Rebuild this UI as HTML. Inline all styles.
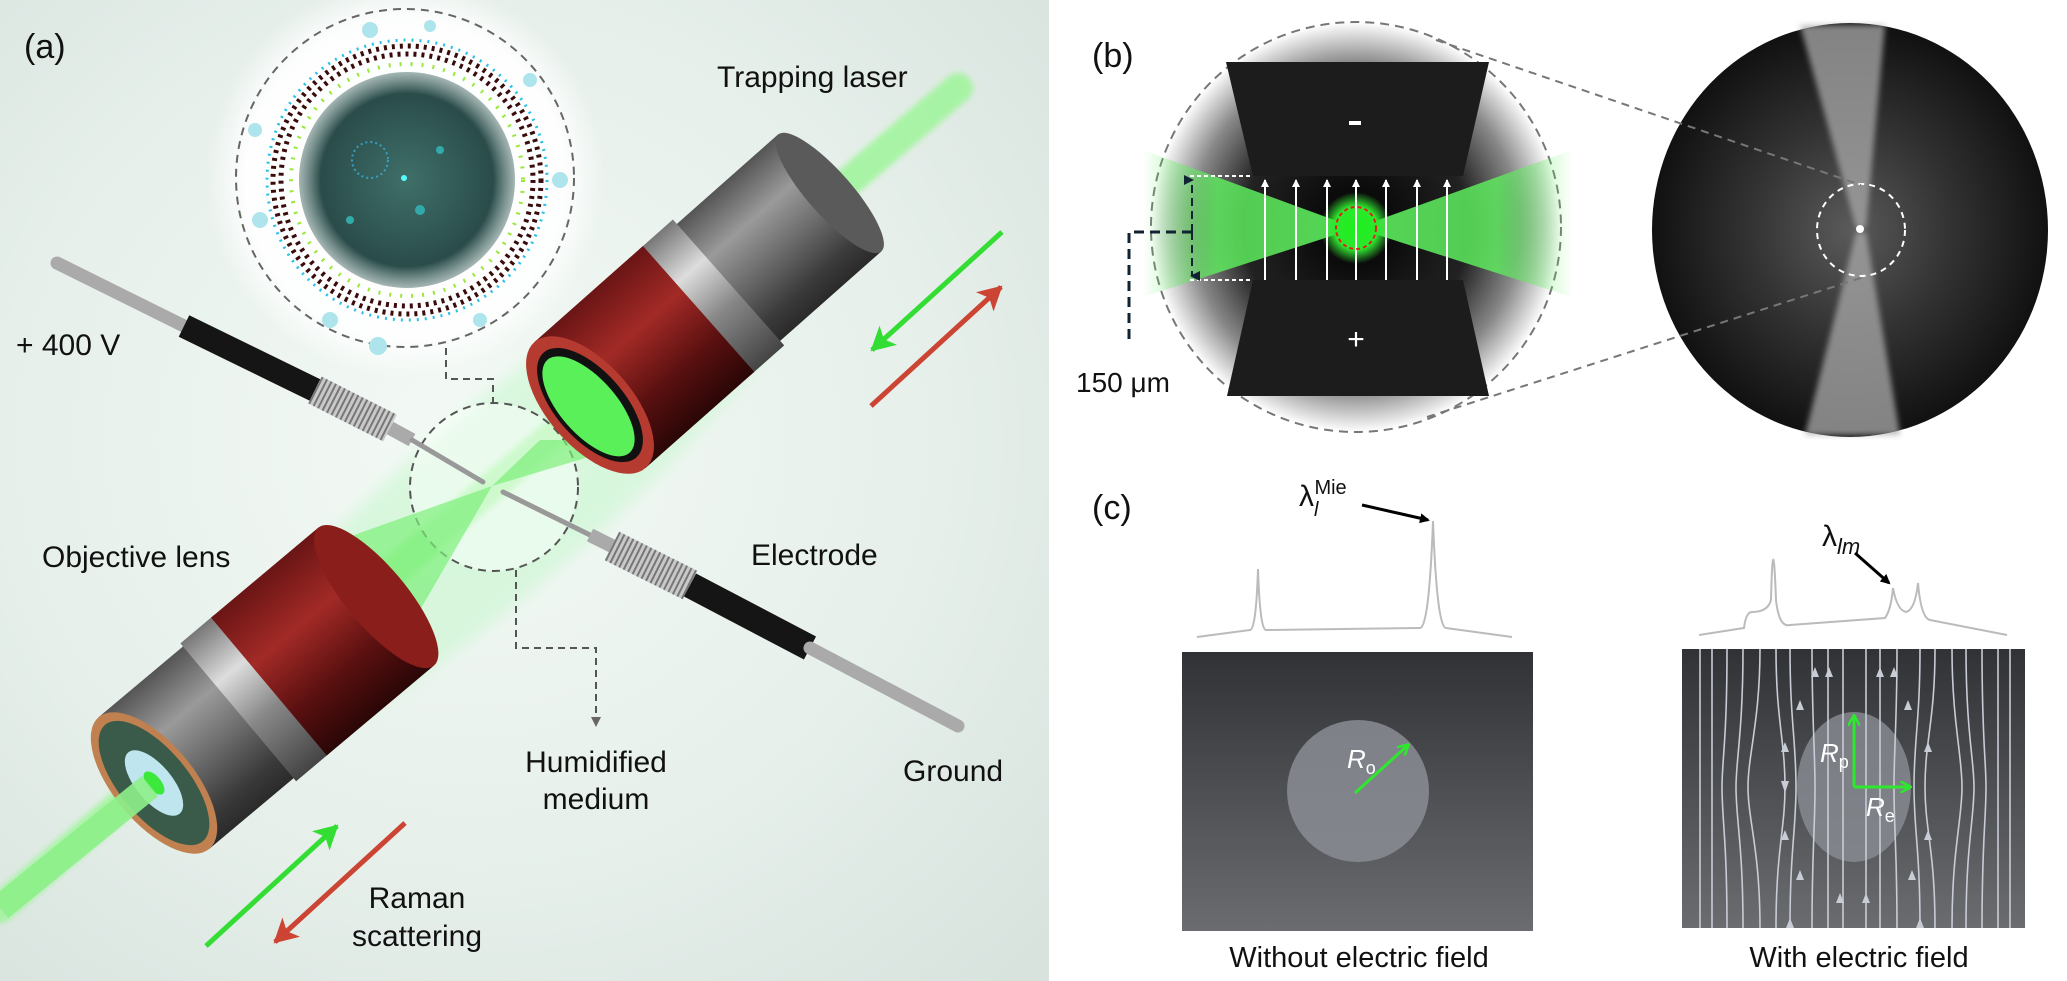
<!DOCTYPE html>
<html><head><meta charset="utf-8"><style>
html,body{margin:0;padding:0;background:#fff}
svg{display:block}
text{font-family:"Liberation Sans",sans-serif}
</style></head><body>
<svg width="2067" height="981" viewBox="0 0 2067 981" xmlns="http://www.w3.org/2000/svg">
<defs>
<radialGradient id="bgA" cx="0.45" cy="0.45" r="0.75">
<stop offset="0" stop-color="#f4faf6"/><stop offset="0.6" stop-color="#e6efea"/><stop offset="1" stop-color="#d8e3de"/>
</radialGradient>
<radialGradient id="glow" cx="0.5" cy="0.5" r="0.5">
<stop offset="0" stop-color="#fff"/><stop offset="0.8" stop-color="#fff" stop-opacity="0.9"/><stop offset="1" stop-color="#fff" stop-opacity="0"/>
</radialGradient>
<radialGradient id="drop" cx="0.5" cy="0.5" r="0.5">
<stop offset="0" stop-color="#3f6f68"/><stop offset="0.8" stop-color="#2a4c4a"/><stop offset="1" stop-color="#4b6e6a" stop-opacity="0.5"/>
</radialGradient>
<linearGradient id="red" x1="0" y1="0" x2="0" y2="1">
<stop offset="0" stop-color="#6a1515"/><stop offset="0.35" stop-color="#a22a26"/><stop offset="0.7" stop-color="#5a1010"/><stop offset="1" stop-color="#2a0606"/>
</linearGradient>
<linearGradient id="silver" x1="0" y1="0" x2="0" y2="1">
<stop offset="0" stop-color="#555"/><stop offset="0.3" stop-color="#9a9a9a"/><stop offset="0.55" stop-color="#6f6f6f"/><stop offset="0.85" stop-color="#3a3a3a"/><stop offset="1" stop-color="#2a2a2a"/>
</linearGradient>
<linearGradient id="knurl" x1="0" y1="0" x2="0" y2="1">
<stop offset="0" stop-color="#777"/><stop offset="0.3" stop-color="#ddd"/><stop offset="0.6" stop-color="#888"/><stop offset="1" stop-color="#444"/>
</linearGradient>
<radialGradient id="bcirc" cx="0.5" cy="0.5" r="0.5">
<stop offset="0" stop-color="#000"/><stop offset="0.55" stop-color="#222"/><stop offset="0.8" stop-color="#888"/><stop offset="1" stop-color="#fff"/>
</radialGradient>
<linearGradient id="elec" x1="0" y1="0" x2="0" y2="1">
<stop offset="0" stop-color="#111"/><stop offset="1" stop-color="#333"/>
</linearGradient>
<linearGradient id="gL" x1="0" y1="0" x2="1" y2="0">
<stop offset="0" stop-color="#5ef05e" stop-opacity="0"/><stop offset="0.35" stop-color="#5ef05e" stop-opacity="0.9"/><stop offset="1" stop-color="#5ef05e"/>
</linearGradient>
<linearGradient id="gR" x1="1" y1="0" x2="0" y2="0">
<stop offset="0" stop-color="#5ef05e" stop-opacity="0"/><stop offset="0.35" stop-color="#5ef05e" stop-opacity="0.9"/><stop offset="1" stop-color="#5ef05e"/>
</linearGradient>
<radialGradient id="gspot" cx="0.5" cy="0.5" r="0.5">
<stop offset="0" stop-color="#1bf01b"/><stop offset="0.6" stop-color="#2de82d"/><stop offset="1" stop-color="#3be03b" stop-opacity="0"/>
</radialGradient>
<radialGradient id="micro" cx="0.5" cy="0.5" r="0.5">
<stop offset="0" stop-color="#5a5a5a"/><stop offset="0.5" stop-color="#333"/><stop offset="1" stop-color="#111"/>
</radialGradient>
<linearGradient id="rect" x1="0" y1="0" x2="0" y2="1">
<stop offset="0" stop-color="#303236"/><stop offset="1" stop-color="#6a6c70"/>
</linearGradient>
<filter id="blur8"><feGaussianBlur stdDeviation="8"/></filter>
<filter id="blur3"><feGaussianBlur stdDeviation="3"/></filter>
<marker id="ah" markerWidth="10" markerHeight="10" refX="8" refY="5" orient="auto" markerUnits="userSpaceOnUse"><path d="M0,0 L10,5 L0,10 z" fill="#000"/></marker>
<marker id="ahw" markerWidth="8" markerHeight="8" refX="7" refY="4" orient="auto" markerUnits="userSpaceOnUse"><path d="M0,0 L8,4 L0,8 z" fill="#fff"/></marker>
<marker id="ahg" markerWidth="12" markerHeight="12" refX="10" refY="6" orient="auto" markerUnits="userSpaceOnUse"><path d="M0,0 L11,6 L0,12" fill="none" stroke="#2ee82e" stroke-width="2.5"/></marker>
<marker id="ahG" markerWidth="26" markerHeight="26" refX="22" refY="13" orient="auto" markerUnits="userSpaceOnUse"><path d="M0,0 L24,13 L0,26 L6,13 z" fill="#33dd33"/></marker>
<marker id="ahR" markerWidth="26" markerHeight="26" refX="22" refY="13" orient="auto" markerUnits="userSpaceOnUse"><path d="M0,0 L24,13 L0,26 L6,13 z" fill="#cc4433"/></marker>
<marker id="ahn" markerWidth="10" markerHeight="10" refX="5" refY="8" orient="auto" markerUnits="userSpaceOnUse"><path d="M0,0 L5,10 L10,0" fill="#123" /></marker>
<marker id="ahgr" markerWidth="10" markerHeight="10" refX="5" refY="5" orient="auto" markerUnits="userSpaceOnUse"><path d="M0,0 L10,5 L0,10 z" fill="#666"/></marker>
<marker id="fl" markerWidth="12" markerHeight="12" refX="6" refY="6" orient="auto" markerUnits="userSpaceOnUse"><path d="M0,2 L12,6 L0,10 z" fill="#c8ccd4"/></marker>
</defs>

<!-- PANEL A -->
<rect x="0" y="0" width="1049" height="981" fill="url(#bgA)"/>
<!-- green haze -->
<ellipse cx="500" cy="500" rx="420" ry="90" transform="rotate(-41 500 500)" fill="#c8f7cf" opacity="0.6" filter="url(#blur8)"/>
<!-- beam -->
<line x1="958" y1="88" x2="0" y2="908" stroke="#9ef59a" stroke-width="30" stroke-linecap="round" opacity="0.85" filter="url(#blur3)"/>
<!-- glow around droplet -->
<circle cx="405" cy="178" r="200" fill="url(#glow)"/>
<circle cx="405" cy="178" r="169" fill="none" stroke="#666" stroke-width="2" stroke-dasharray="8,6"/>
<circle cx="407" cy="180" r="108" fill="url(#drop)"/>
<circle cx="370" cy="160" r="18" fill="none" stroke="#3ab0e0" stroke-width="2" stroke-dasharray="2,3" opacity="0.8"/>
<circle cx="404" cy="178" r="3" fill="#5ff"/>
<circle cx="420" cy="210" r="5" fill="#3aa"/><circle cx="350" cy="220" r="4" fill="#3aa"/><circle cx="440" cy="150" r="4" fill="#3aa"/>
<!-- molecule ring -->
<circle cx="407" cy="180" r="116" fill="none" stroke="#9ae83c" stroke-width="4" stroke-dasharray="2,9"/>
<circle cx="407" cy="180" r="126" fill="none" stroke="#3a0b0b" stroke-width="5" stroke-dasharray="3,5"/>
<circle cx="407" cy="180" r="134" fill="none" stroke="#3a0b0b" stroke-width="5" stroke-dasharray="3,5"/>
<circle cx="407" cy="180" r="140" fill="none" stroke="#2ac0e8" stroke-width="3" stroke-dasharray="2,6"/>
<circle cx="260" cy="220" r="8" fill="#aee4ec"/><circle cx="560" cy="180" r="8" fill="#aee4ec"/><circle cx="378" cy="346" r="9" fill="#aee4ec"/><circle cx="330" cy="320" r="8" fill="#aee4ec"/><circle cx="480" cy="320" r="7" fill="#aee4ec"/><circle cx="370" cy="30" r="8" fill="#aee4ec"/><circle cx="430" cy="26" r="6" fill="#aee4ec"/><circle cx="530" cy="80" r="7" fill="#aee4ec"/><circle cx="255" cy="130" r="7" fill="#aee4ec"/>
<!-- dashed leader lines -->
<path d="M446,348 V379 H493 V404" fill="none" stroke="#555" stroke-width="2" stroke-dasharray="7,5"/>
<path d="M516,570 V648 H596 V722" fill="none" stroke="#555" stroke-width="2" stroke-dasharray="7,5" marker-end="url(#ahgr)"/>
<!-- small circle -->
<circle cx="494" cy="487" r="84" fill="#fff" opacity="0.45"/>
<circle cx="494" cy="487" r="84" fill="none" stroke="#555" stroke-width="2" stroke-dasharray="8,6"/>
<!-- cones -->
<polygon points="492,486 540,440 645,440" fill="#7ef07a" opacity="0.7"/>
<polygon points="492,486 340,540 420,610" fill="#7ef07a" opacity="0.7"/>

<!-- top-right objective -->
<g transform="translate(590,405) rotate(-41.5)">
<rect x="180" y="-78" width="140" height="156" fill="url(#silver)"/>
<ellipse cx="320" cy="0" rx="22" ry="78" fill="#5a5a5a"/>
<rect x="140" y="-84" width="45" height="168" fill="url(#knurl)"/>
<rect x="0" y="-84" width="145" height="168" fill="url(#red)"/>
<ellipse cx="0" cy="0" rx="42" ry="84" fill="#b53a30"/>
<ellipse cx="0" cy="0" rx="34" ry="70" fill="#111"/>
<ellipse cx="-2" cy="0" rx="28" ry="62" fill="#5af05a"/>
</g>
<!-- bottom-left objective -->
<g transform="translate(154,783) rotate(-40)">
<rect x="0" y="-86" width="115" height="172" fill="url(#silver)"/>
<rect x="110" y="-90" width="45" height="180" fill="url(#knurl)"/>
<rect x="150" y="-90" width="140" height="180" fill="url(#red)"/>
<ellipse cx="290" cy="0" rx="30" ry="90" fill="#8a1e1a"/>
<ellipse cx="0" cy="0" rx="40" ry="86" fill="#c08050"/>
<ellipse cx="0" cy="0" rx="34" ry="76" fill="#3a5a4a"/>
<ellipse cx="0" cy="0" rx="18" ry="40" fill="#bfe6ee"/>
<ellipse cx="0" cy="0" rx="7" ry="14" fill="#3de83d"/>
</g>
<line x1="150" y1="786" x2="0" y2="908" stroke="#8ef08a" stroke-width="26" opacity="0.9"/>

<!-- left electrode -->
<line x1="57" y1="263" x2="184" y2="326" stroke="#aaa" stroke-width="13" stroke-linecap="round"/>
<line x1="184" y1="326" x2="315" y2="390" stroke="#151515" stroke-width="24"/>
<line x1="315" y1="390" x2="390" y2="428" stroke="#c9c9c9" stroke-width="30"/>
<line x1="315" y1="390" x2="390" y2="428" stroke="#777" stroke-width="30" stroke-dasharray="2,3"/>
<line x1="390" y1="428" x2="412" y2="440" stroke="#aaa" stroke-width="14"/>
<line x1="412" y1="440" x2="483" y2="482" stroke="#999" stroke-width="5" stroke-linecap="round"/>
<!-- right electrode -->
<line x1="503" y1="492" x2="590" y2="535" stroke="#999" stroke-width="5" stroke-linecap="round"/>
<line x1="590" y1="535" x2="612" y2="546" stroke="#aaa" stroke-width="14"/>
<line x1="612" y1="546" x2="690" y2="585" stroke="#c9c9c9" stroke-width="32"/>
<line x1="612" y1="546" x2="690" y2="585" stroke="#777" stroke-width="32" stroke-dasharray="2,3"/>
<line x1="690" y1="585" x2="810" y2="648" stroke="#151515" stroke-width="26"/>
<line x1="810" y1="648" x2="958" y2="726" stroke="#aaa" stroke-width="13" stroke-linecap="round"/>

<!-- arrows -->
<line x1="1002" y1="232" x2="872" y2="350" stroke="#33dd33" stroke-width="5" marker-end="url(#ahG)"/>
<line x1="871" y1="406" x2="1001" y2="287" stroke="#cc4433" stroke-width="5" marker-end="url(#ahR)"/>
<line x1="206" y1="946" x2="337" y2="826" stroke="#33dd33" stroke-width="5" marker-end="url(#ahG)"/>
<line x1="405" y1="823" x2="275" y2="942" stroke="#cc4433" stroke-width="5" marker-end="url(#ahR)"/>

<g font-size="30" fill="#111">
<text x="24" y="58" font-size="34">(a)</text>
<text x="717" y="87">Trapping laser</text>
<text x="16" y="355">+ 400 V</text>
<text x="42" y="567">Objective lens</text>
<text x="751" y="565">Electrode</text>
<text x="596" y="772" text-anchor="middle">Humidified</text>
<text x="596" y="809" text-anchor="middle">medium</text>
<text x="903" y="781">Ground</text>
<text x="417" y="908" text-anchor="middle">Raman</text>
<text x="417" y="946" text-anchor="middle">scattering</text>
</g>

<!-- PANEL B -->
<text x="1092" y="67" font-size="34" fill="#111">(b)</text>
<circle cx="1356" cy="227" r="205" fill="url(#bcirc)"/>
<circle cx="1356" cy="227" r="205" fill="none" stroke="#777" stroke-width="2" stroke-dasharray="9,6"/>
<!-- green bowtie -->
<polygon points="1143,150 1356,228 1143,297" fill="url(#gL)" opacity="0.9"/>
<polygon points="1572,150 1356,228 1572,297" fill="url(#gR)" opacity="0.9"/>
<circle cx="1356" cy="228" r="36" fill="url(#gspot)"/>
<!-- electrodes -->
<polygon points="1226,62 1489,62 1463,176 1253,176" fill="#1c1c1c"/>
<polygon points="1253,280 1463,280 1489,396 1227,396" fill="#1c1c1c"/>
<rect x="1349" y="121" width="12" height="4" fill="#fff"/>
<text x="1356" y="349" font-size="30" fill="#fff" text-anchor="middle">+</text>
<g stroke="#fff" stroke-width="2">
<line x1="1265" y1="280" x2="1265" y2="180" marker-end="url(#ahw)"/>
<line x1="1296" y1="280" x2="1296" y2="180" marker-end="url(#ahw)"/>
<line x1="1327" y1="280" x2="1327" y2="180" marker-end="url(#ahw)"/>
<line x1="1356" y1="280" x2="1356" y2="180" marker-end="url(#ahw)"/>
<line x1="1386" y1="280" x2="1386" y2="180" marker-end="url(#ahw)"/>
<line x1="1417" y1="280" x2="1417" y2="180" marker-end="url(#ahw)"/>
<line x1="1447" y1="280" x2="1447" y2="180" marker-end="url(#ahw)"/>
</g>
<ellipse cx="1356" cy="228" rx="20" ry="21" fill="none" stroke="#e02020" stroke-width="2" stroke-dasharray="4,3"/>
<line x1="1190" y1="176" x2="1253" y2="176" stroke="#fff" stroke-width="2" stroke-dasharray="4,3"/>
<line x1="1190" y1="280" x2="1253" y2="280" stroke="#fff" stroke-width="2" stroke-dasharray="4,3"/>
<line x1="1192" y1="232" x2="1192" y2="180" stroke="#123" stroke-width="2" stroke-dasharray="8,5" marker-end="url(#ahn)"/>
<line x1="1192" y1="232" x2="1192" y2="276" stroke="#123" stroke-width="2" stroke-dasharray="8,5" marker-end="url(#ahn)"/>
<path d="M1192,232 H1129 V345" fill="none" stroke="#123" stroke-width="3" stroke-dasharray="10,6"/>
<text x="1076" y="392" font-size="28" fill="#111">150 μm</text>
<!-- micrograph -->
<ellipse cx="1850" cy="230" rx="198" ry="207" fill="url(#micro)"/>
<g filter="url(#blur3)">
<polygon points="1800,25 1885,25 1866,228 1856,228" fill="#aaa" opacity="0.75"/>
<polygon points="1856,232 1866,232 1900,435 1805,435" fill="#aaa" opacity="0.75"/>
</g>
<circle cx="1860" cy="229" r="4" fill="#fff"/>
<ellipse cx="1861" cy="230" rx="44" ry="46" fill="none" stroke="#fff" stroke-width="2" stroke-dasharray="6,5"/>
<line x1="1436" y1="40" x2="1861" y2="185" stroke="#777" stroke-width="2" stroke-dasharray="8,6"/>
<line x1="1427" y1="417" x2="1864" y2="277" stroke="#777" stroke-width="2" stroke-dasharray="8,6"/>

<!-- PANEL C -->
<text x="1092" y="519" font-size="34" fill="#111">(c)</text>
<text x="1299" y="506" font-size="30" fill="#111" font-family="Liberation Serif,serif">λ<tspan font-size="20" font-style="italic" dy="10">l</tspan><tspan font-size="20" dy="-22" dx="-4">Mie</tspan></text>
<line x1="1362" y1="505" x2="1428" y2="520" stroke="#000" stroke-width="3" marker-end="url(#ah)"/>
<path d="M1197,637 L1250,630 Q1256,630 1258,569 Q1260,630 1266,630 L1420,628 Q1429,628 1433,521 Q1437,628 1446,628 L1512,637" fill="none" stroke="#bbb" stroke-width="2"/>
<rect x="1182" y="652" width="351" height="279" fill="url(#rect)"/>
<circle cx="1358" cy="791" r="71" fill="#8a8d94" opacity="0.85"/>
<line x1="1355" y1="793" x2="1408" y2="745" stroke="#2ee82e" stroke-width="3" marker-end="url(#ahg)"/>
<text x="1347" y="768" font-size="26" fill="#fff" font-family="Liberation Serif,serif" font-style="italic">R<tspan font-size="18" font-style="normal" dy="6">o</tspan></text>
<text x="1359" y="967" font-size="29" fill="#111" text-anchor="middle">Without electric field</text>

<text x="1822" y="546" font-size="30" fill="#111" font-family="Liberation Serif,serif">λ<tspan font-size="22" font-style="italic" dy="8">lm</tspan></text>
<line x1="1855" y1="553" x2="1889" y2="583" stroke="#000" stroke-width="3" marker-end="url(#ah)"/>
<path d="M1699,635 L1744,628 Q1746,612 1752,612 Q1768,612 1771,600 Q1773,519 1776,600 Q1779,628 1790,625 L1885,618 Q1891,610 1893,588 Q1897,610 1906,612 Q1915,610 1918,583 Q1921,618 1930,620 L2007,635" fill="none" stroke="#bbb" stroke-width="2"/>
<rect x="1682" y="649" width="343" height="279" fill="url(#rect)"/>
<ellipse cx="1854" cy="787" rx="57" ry="75" fill="#8a8d94" opacity="0.8"/>
<g fill="none" stroke="#c8ccd4" stroke-width="1.6">
<path d="M1700,649 V928"/><path d="M1712,649 V928"/><path d="M2010,649 V928"/><path d="M1998,649 V928"/>
<path d="M1727,649 C1727,740 1722,760 1722,787 C1722,820 1727,840 1727,928"/>
<path d="M1743,649 C1743,730 1736,760 1736,787 C1736,820 1743,845 1743,928"/>
<path d="M1760,649 C1760,720 1748,755 1748,787 C1748,820 1760,850 1760,928"/>
<path d="M1776,649 C1776,720 1785,740 1785,787 C1785,830 1776,850 1776,928" marker-mid="url(#fl)"/>
<path d="M1790,649 C1790,720 1796,740 1796,787 C1796,830 1790,850 1790,928"/>
<path d="M1812,649 C1812,720 1815,750 1815,787 C1815,830 1812,850 1812,928"/>
<path d="M1828,649 V928"/><path d="M1843,649 V928"/><path d="M1866,649 V928"/><path d="M1880,649 V928"/>
<path d="M1897,649 C1897,720 1894,750 1894,787 C1894,830 1897,850 1897,928"/>
<path d="M1920,649 C1920,720 1914,740 1914,787 C1914,830 1920,850 1920,928"/>
<path d="M1935,649 C1935,720 1925,740 1925,787 C1925,830 1935,850 1935,928"/>
<path d="M1952,649 C1952,720 1962,755 1962,787 C1962,820 1952,850 1952,928"/>
<path d="M1966,649 C1966,730 1974,760 1974,787 C1974,820 1966,845 1966,928"/>
<path d="M1982,649 C1982,740 1986,760 1986,787 C1986,820 1982,840 1982,928"/>
</g>
<g fill="#c8ccd4">
<path d="M1815,667 l-4,10 h8z"/><path d="M1829,667 l-4,10 h8z"/><path d="M1880,667 l-4,10 h8z"/><path d="M1894,667 l-4,10 h8z"/>
<path d="M1800,700 l-4,10 h8z"/><path d="M1908,700 l-4,10 h8z"/><path d="M1785,742 l-4,10 h8z"/><path d="M1928,742 l-4,10 h8z"/>
<path d="M1785,830 l-4,10 h8z"/><path d="M1928,830 l-4,10 h8z"/><path d="M1800,870 l-4,10 h8z"/><path d="M1912,870 l-4,10 h8z"/>
<path d="M1840,893 l-4,10 h8z"/><path d="M1866,893 l-4,10 h8z"/><path d="M1790,918 l-4,10 h8z"/><path d="M1920,918 l-4,10 h8z"/>
</g>
<line x1="1854" y1="787" x2="1854" y2="716" stroke="#2ee82e" stroke-width="3" marker-end="url(#ahg)"/>
<line x1="1854" y1="787" x2="1910" y2="787" stroke="#2ee82e" stroke-width="3" marker-end="url(#ahg)"/>
<text x="1820" y="762" font-size="26" fill="#fff" font-family="Liberation Serif,serif" font-style="italic">R<tspan font-size="18" font-style="normal" dy="6">p</tspan></text>
<text x="1866" y="816" font-size="26" fill="#fff" font-family="Liberation Serif,serif" font-style="italic">R<tspan font-size="18" font-style="normal" dy="6">e</tspan></text>
<text x="1859" y="967" font-size="29" fill="#111" text-anchor="middle">With electric field</text>
</svg>
</body></html>
